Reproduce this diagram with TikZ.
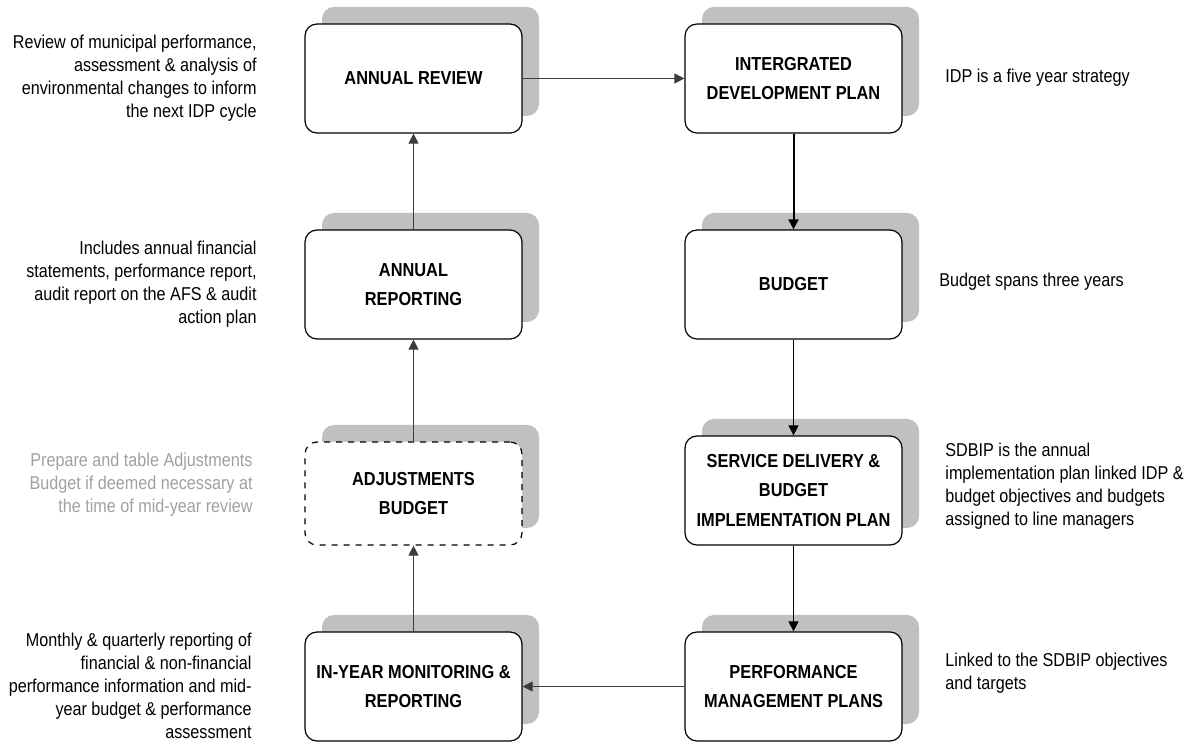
\documentclass[tikz,border=0pt]{standalone}
\usepackage{fontspec}
\setmainfont{Liberation Sans}[FakeStretch=0.87]
\usetikzlibrary{shadows,arrows.meta}
\definecolor{shadowgray}{RGB}{192,192,192}
\definecolor{notegray}{RGB}{160,160,160}
\definecolor{linegray}{RGB}{60,60,60}
\begin{document}
\begin{tikzpicture}[x=0.5pt,y=-0.5pt,
  stagebox/.style={draw=black, line width=0.6pt, fill=white, rounded corners=6pt,
    minimum width=108.5pt, minimum height=54.5pt, align=center, inner sep=0pt,
    font=\fontsize{9.4}{14.8}\selectfont\bfseries,
    general shadow={fill=shadowgray, draw=none, shadow xshift=8.5pt, shadow yshift=8.5pt}},
  conn/.style={draw=linegray, line width=0.55pt, -{Triangle[length=5pt,width=5pt]}},
  lnote/.style={anchor=east, align=right, inner sep=0pt, font=\fontsize{9.3}{11.5}\selectfont},
  rnote/.style={anchor=west, align=left, inner sep=0pt, font=\fontsize{9.3}{11.5}\selectfont}]
\useasboundingbox (0,0) rectangle (1194,742);

\node[stagebox] (ar) at (413.5,78.5) {ANNUAL REVIEW};
\node[stagebox] (idp) at (793.5,78.5) {INTERGRATED\\DEVELOPMENT PLAN};
\node[stagebox] (bud) at (793.5,284.5) {BUDGET};
\node[stagebox] (sdbip) at (793.5,490.5) {SERVICE DELIVERY \&\\BUDGET\\IMPLEMENTATION PLAN};
\node[stagebox] (pmp) at (793.5,686.5) {PERFORMANCE\\MANAGEMENT PLANS};
\node[stagebox] (iym) at (413.5,686.5) {IN-YEAR MONITORING \&\\REPORTING};
\node[stagebox, dashed, minimum height=51.5pt] (adj) at (413.5,493.5) {ADJUSTMENTS\\BUDGET};
\node[stagebox] (ann) at (413.5,284.5) {ANNUAL\\REPORTING};

\draw[conn] (ar) -- (idp);
\draw[conn, draw=black, line width=1pt] (idp) -- (bud);
\draw[conn, draw=black] (bud) -- (sdbip);
\draw[conn, draw=black] (sdbip) -- (pmp);
\draw[conn] (pmp) -- (iym);
\draw[conn] (iym) -- (adj);
\draw[conn] (adj) -- (ann);
\draw[conn] (ann) -- (ar);

\node[lnote] (n1) at (257,78) {Review of municipal performance,\\assessment \& analysis of\\environmental changes to inform\\the next IDP cycle};
\node[lnote] (n2) at (257,284) {Includes annual financial\\statements, performance report,\\audit report on the AFS \& audit\\action plan};
\node[lnote, text=notegray] (n3) at (253,485) {Prepare and table Adjustments\\Budget if deemed necessary at\\the time of mid-year review};
\node[lnote] (n4) at (252,686) {Monthly \& quarterly reporting of\\financial \& non-financial\\performance information and mid-\\year budget \& performance\\assessment};

\node[rnote] (n5) at (945,78) {IDP is a five year strategy};
\node[rnote] (n6) at (939,282) {Budget spans three years};
\node[rnote] (n7) at (945,486) {SDBIP is the annual\\implementation plan linked IDP \&\\budget objectives and budgets\\assigned to line managers};
\node[rnote] (n8) at (945,673) {Linked to the SDBIP objectives\\and targets};
\end{tikzpicture}
\end{document}
